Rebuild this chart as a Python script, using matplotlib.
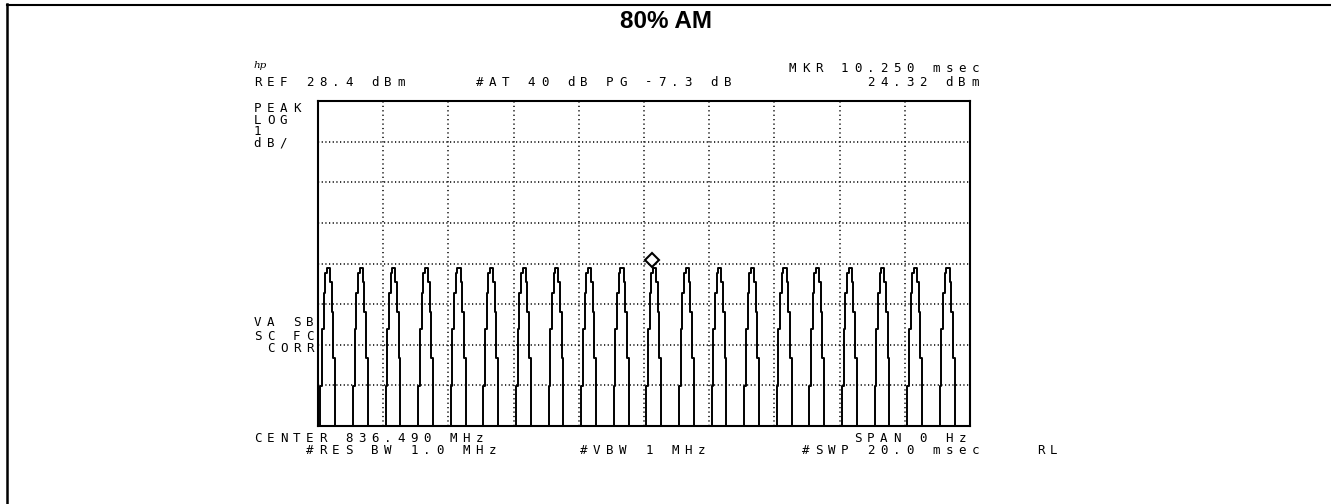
import matplotlib
matplotlib.use("Agg")
import matplotlib.pyplot as plt
import matplotlib.transforms as mtransforms
from matplotlib.lines import Line2D

# screen settings of the analyzer
sweep_ms = 20.0
n_points = 401
ref_dbm = 28.4
db_per_div = 1.0
n_xdiv = 10
n_ydiv = 8

# one modulation period of the trace (20 samples, dBm)
# values below the bottom graticule line are off screen
period_db = [18.0, 18.0, 21.38, 22.78, 23.67, 24.16, 24.29, 24.29, 23.94, 23.20,
             22.07, 18.0, 18.0, 18.0, 18.0, 18.0, 18.0, 18.0, 18.0, 18.0]
n_periods = 20
trace_db = period_db * n_periods + period_db[:1]
t_ms = [i * sweep_ms / (n_points - 1) for i in range(n_points)]

mkr_ms = 10.25
mkr_dbm = 24.32

# annotation text: (column, row y in px, text)
top_lines = [
    (41, 68, "MKR 10.250 msec"),
    (0, 81, "REF 28.4 dBm"),
    (17, 81, "#AT 40 dB PG -7.3 dB"),
    (47, 81, "24.32 dBm"),
]
side_lines = [
    (0, 107, "PEAK"),
    (0, 120, "LOG"),
    (0, 131, "1"),
    (0, 142, "dB/"),
    (0, 322, "VA SB"),
    (0, 335, "SC FC"),
    (0, 348, " CORR"),
]
bottom_lines = [
    (0, 437, "CENTER 836.490 MHz"),
    (46, 437, "SPAN 0 Hz"),
    (4, 450, "#RES BW 1.0 MHz"),
    (25, 450, "#VBW 1 MHz"),
    (42, 450, "#SWP 20.0 msec"),
    (60, 450, "RL"),
]

W, H = 1331, 504
fig = plt.figure(figsize=(W / 100, H / 100), dpi=100)
fig.patch.set_facecolor("white")

# outer frame lines (top and left)
fig.add_artist(Line2D([7 / W, 1.0], [1 - 5 / H, 1 - 5 / H], color="black", lw=1.5,
                      transform=fig.transFigure))
fig.add_artist(Line2D([7 / W, 7 / W], [1 - 4 / H, 0.0], color="black", lw=1.8,
                      transform=fig.transFigure))

fig.text(0.5, 1 - 22 / H, "80% AM", ha="center", va="center", fontsize=17.5,
         fontweight="bold", family="Liberation Sans")

ax = fig.add_axes([318 / W, 1 - 426 / H, 652 / W, 325 / H])
ax.set_xlim(0, sweep_ms)
ax.set_ylim(ref_dbm - n_ydiv * db_per_div, ref_dbm)

for k in range(1, n_xdiv):
    ax.axvline(k * sweep_ms / n_xdiv, color="black", lw=1.1, ls=(0, (0.8, 2.1)), zorder=1)
for k in range(1, n_ydiv):
    ax.axhline(ref_dbm - k * db_per_div, color="black", lw=1.1, ls=(0, (0.8, 1.6)), zorder=1)

ax.plot(t_ms, trace_db, color="black", lw=1.4, drawstyle="steps-mid", zorder=3)

# marker diamond sits just above the peak
off = mtransforms.ScaledTranslation(0, 6.5 / 100, fig.dpi_scale_trans)
ax.plot([mkr_ms], [mkr_dbm], marker="D", ms=6.8, mfc="white", mec="black", mew=1.5,
        transform=ax.transData + off, clip_on=False, zorder=4)

ax.set_xticks([])
ax.set_yticks([])
for sp in ax.spines.values():
    sp.set_linewidth(1.5)


def hp_text(col, y, s):
    # instrument font sits on a fixed character grid
    for i, ch in enumerate(s):
        if ch == " ":
            continue
        x = 253 + (col + i) * 13.05 + 4.5
        fig.text(x / W, 1 - (y + 4.5) / H, ch, ha="center", va="baseline",
                 family="DejaVu Sans Mono", fontsize=9, color="black")


for col, y, s in top_lines + side_lines + bottom_lines:
    hp_text(col, y, s)

# small hp logo
fig.text(253 / W, 1 - 65 / H, "hp", ha="left", va="center", fontsize=7.5,
         style="italic", family="DejaVu Serif")

fig.savefig("out.png", dpi=100)
